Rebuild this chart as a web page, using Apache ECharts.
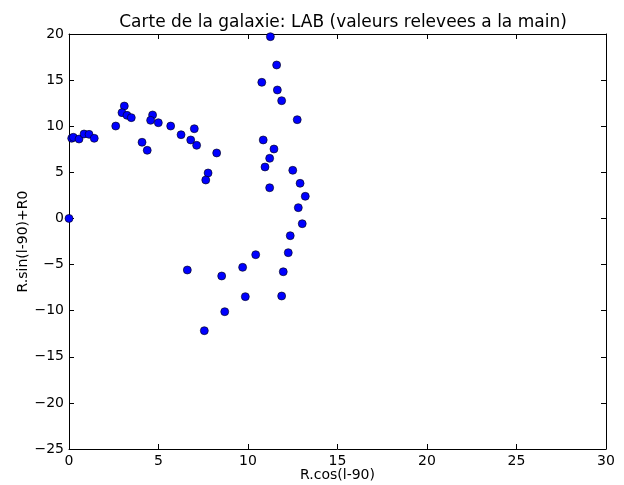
<!DOCTYPE html>
<html>
<head>
<meta charset="utf-8">
<script src="https://cdn.jsdelivr.net/npm/echarts@6/dist/echarts.min.js"></script>
<style>
  html, body { margin: 0; padding: 0; background: #fff; }
  #chart { width: 624px; height: 485px; }
</style>
</head>
<body>
<div id="chart"></div>
<script>
// valeurs
const xs = [0, 0.15, 0.24, 0.56, 0.84, 1.12, 1.41, 2.61, 3.09, 2.96, 3.24, 3.48,
  4.08, 4.37, 4.67, 4.56, 4.99, 5.68, 6.26, 7.0, 6.8, 7.13, 8.25, 7.77, 7.64,
  11.25, 11.6, 10.77, 11.64, 11.88, 12.75, 10.85, 11.45, 11.21, 10.95, 12.5,
  12.91, 11.21, 13.2, 12.81, 13.03, 12.36, 12.25, 10.43, 11.97, 11.88,
  6.61, 9.7, 8.53, 9.85, 8.7, 7.56];
const ys = [0, 8.69, 8.8, 8.61, 9.16, 9.12, 8.69, 10.02, 12.19, 11.47, 11.18, 10.93,
  8.26, 7.39, 11.22, 10.64, 10.38, 10.02, 9.08, 9.73, 8.51, 7.93, 7.1, 4.93, 4.17,
  19.71, 16.64, 14.76, 13.93, 12.77, 10.71, 8.51, 7.53, 6.52, 5.58, 5.22,
  3.81, 3.33, 2.4, 1.17, -0.57, -1.87, -3.71, -3.93, -5.78, -8.41,
  -5.59, -5.3, -6.24, -8.48, -10.11, -12.17];

const font = "DejaVu Sans";
const minus = (v) => String(v).replace("-", "\u2212");

const tick = { show: true, inside: true, length: 5, lineStyle: { color: "#000" } };
const line = { show: true, onZero: false, lineStyle: { color: "#000", width: 1 } };
const lbl = { color: "#000", fontFamily: font, fontSize: 14, formatter: minus };

const option = {
  animation: false,
  title: {
    text: "Carte de la galaxie: LAB (valeurs relevees a la main)",
    left: 338,
    textAlign: "center",
    top: 9,
    textStyle: { fontFamily: font, fontSize: 17, fontWeight: "normal", color: "#000" },
  },
  grid: { left: 69, right: 18, top: 34, bottom: 36, containLabel: false, outerBoundsMode: "none" },
  xAxis: [
    {
      type: "value", min: 0, max: 30, interval: 5,
      name: "R.cos(l-90)", nameLocation: "middle", nameGap: 19, nameMoveOverlap: false,
      nameTextStyle: { fontFamily: font, fontSize: 14, color: "#000" },
      axisLine: line, axisTick: tick, axisLabel: { ...lbl, margin: 5 },
      splitLine: { show: false },
    },
    {
      type: "value", min: 0, max: 30, interval: 5, position: "top",
      axisLine: line, axisTick: tick, axisLabel: { show: false },
      splitLine: { show: false },
    },
  ],
  yAxis: [
    {
      type: "value", min: -25, max: 20, interval: 5,
      name: "R.sin(l-90)+R0", nameLocation: "middle", nameGap: 39, nameMoveOverlap: false,
      nameTextStyle: { fontFamily: font, fontSize: 14, color: "#000" },
      axisLine: line, axisTick: tick, axisLabel: { ...lbl, margin: 5 },
      splitLine: { show: false },
    },
    {
      type: "value", min: -25, max: 20, interval: 5, position: "right",
      axisLine: line, axisTick: tick, axisLabel: { show: false },
      splitLine: { show: false },
    },
  ],
  series: [
    {
      type: "scatter",
      data: xs.map((x, i) => [x, ys[i]]),
      symbolSize: 8,
      itemStyle: { color: "#0000ff", borderColor: "#000", borderWidth: 0.6, opacity: 1 },
    },
  ],
};

const chart = echarts.init(document.getElementById("chart"));
chart.setOption(option);
</script>
</body>
</html>
